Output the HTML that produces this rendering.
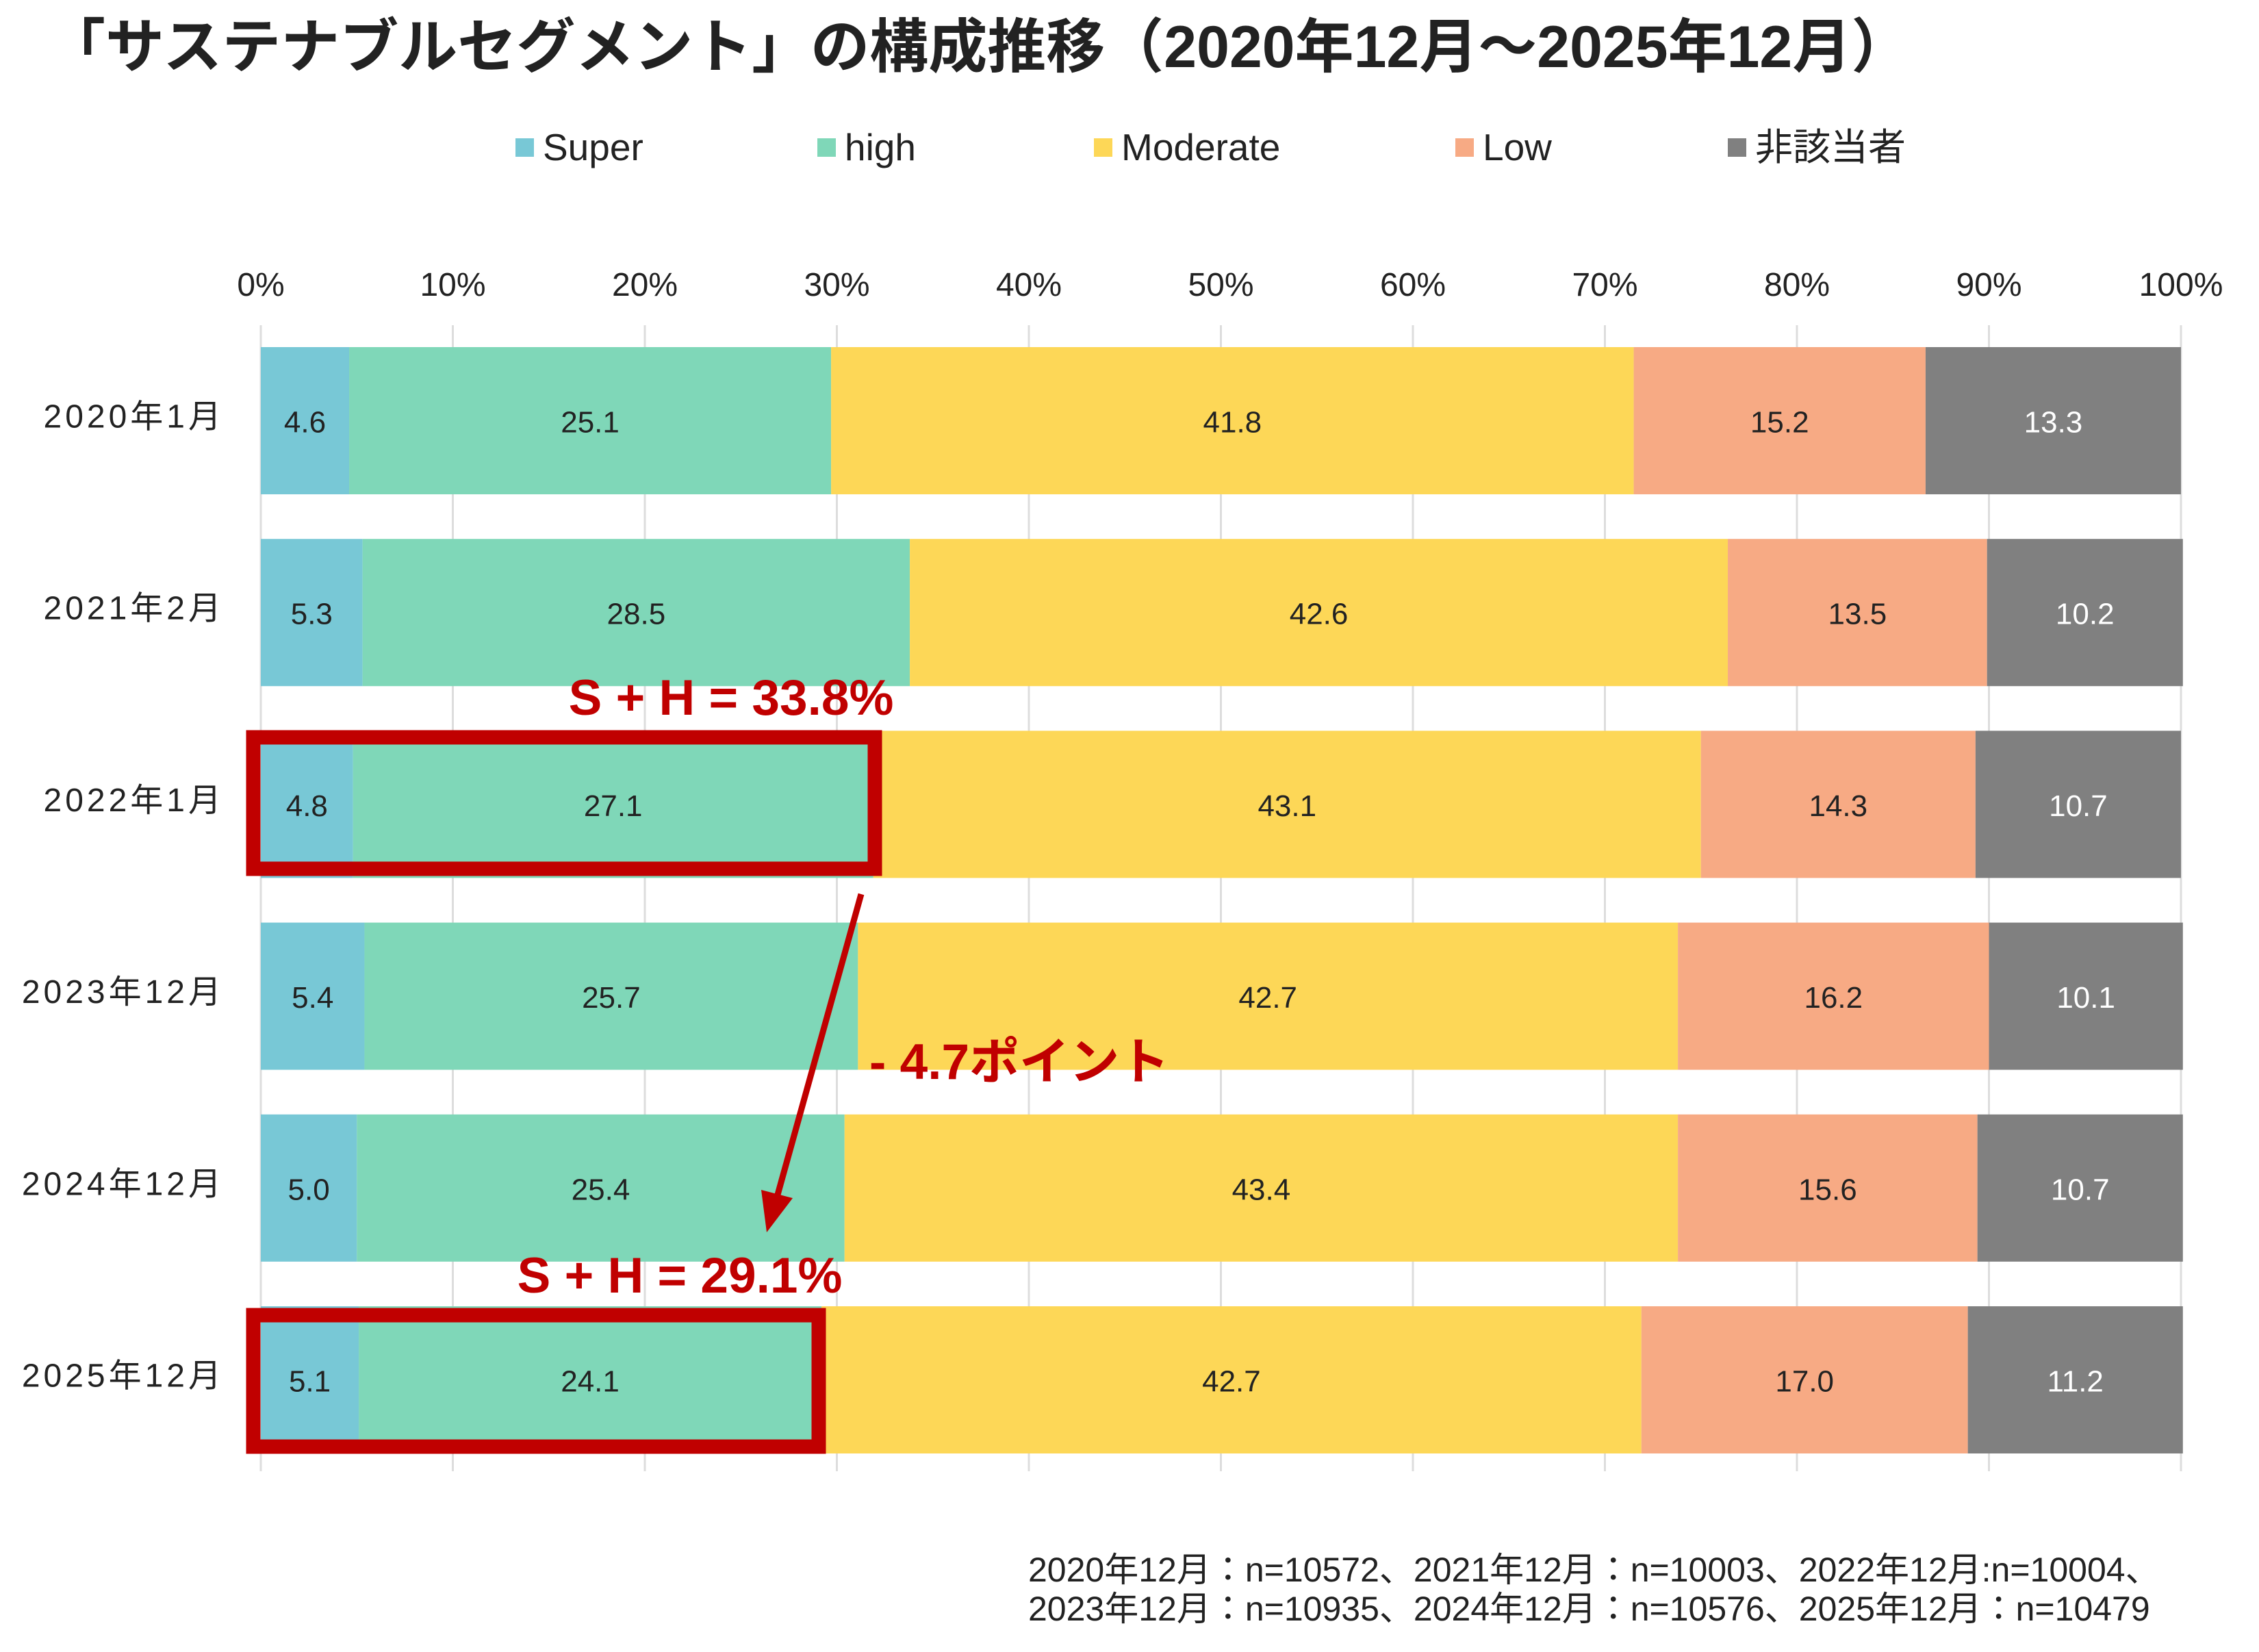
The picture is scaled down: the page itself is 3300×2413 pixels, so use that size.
<!DOCTYPE html>
<html><head><meta charset="utf-8">
<style>
html,body{margin:0;padding:0;background:#fff;}
svg{display:block;font-family:"Liberation Sans","Noto Sans CJK JP",sans-serif;}
</style></head>
<body>
<svg id="chart" width="3300" height="2413" viewBox="0 0 3300 2413" xmlns="http://www.w3.org/2000/svg">
<text x="68" y="98" font-size="86" font-weight="bold" fill="#222">「サステナブルセグメント」の構成推移（2020年12月～2025年12月）</text>
<g id="legend"></g>
<g id="grid"></g>
<g id="xticks"></g>
<g id="bars"></g>
<g id="ylabels"></g>
<g>
<rect x="370" y="1077" width="908" height="192" fill="none" stroke="#c00000" stroke-width="21"/>
<rect x="370" y="1921" width="826" height="192" fill="none" stroke="#c00000" stroke-width="21"/>
<text x="1068" y="1044" text-anchor="middle" font-size="73" font-weight="bold" fill="#c00000">S + H = 33.8%</text>
<text x="993" y="1888" text-anchor="middle" font-size="73" font-weight="bold" fill="#c00000">S + H = 29.1%</text>
<text x="1270" y="1576" font-size="73" font-weight="bold" fill="#c00000">- 4.7ポイント</text>
<line x1="1258" y1="1306" x2="1136" y2="1745" stroke="#c00000" stroke-width="9"/>
<polygon points="1120,1800 1112,1738 1158,1750" fill="#c00000"/>
</g>
<text x="1502" y="2310" font-size="50" fill="#222">2020年12月：n=10572、2021年12月：n=10003、2022年12月:n=10004、</text>
<text x="1502" y="2367" font-size="50" fill="#222">2023年12月：n=10935、2024年12月：n=10576、2025年12月：n=10479</text>
</svg>
<script>
const categories = ["2020年1月","2021年2月","2022年1月","2023年12月","2024年12月","2025年12月"];
const seriesNames = ["Super","high","Moderate","Low","非該当者"];
const superVals = [4.6,5.3,4.8,5.4,5.0,5.1];
const highVals = [25.1,28.5,27.1,25.7,25.4,24.1];
const moderateVals = [41.8,42.6,43.1,42.7,43.4,42.7];
const lowVals = [15.2,13.5,14.3,16.2,15.6,17.0];
const naVals = [13.3,10.2,10.7,10.1,10.7,11.2];
const tickVals = [0,10,20,30,40,50,60,70,80,90,100];

const colors = ["#78c8d6","#7fd7b8","#fdd757","#f7aa84","#808080"];
const textColors = ["#222","#222","#222","#222","#fff"];
const allSeries = [superVals,highVals,moderateVals,lowVals,naVals];
const NS = "http://www.w3.org/2000/svg";
const X0 = 381, X1 = 3186;
const xScale = v => X0 + (X1 - X0) * v / 100;
const rowTop0 = 507, rowStep = 280.2, barH = 215;
const yScale = i => rowTop0 + i * rowStep;
function mk(tag, attrs, parent){const e=document.createElementNS(NS,tag);for(const k in attrs)e.setAttribute(k,attrs[k]);parent.appendChild(e);return e;}

const grid = document.getElementById('grid');
const xticks = document.getElementById('xticks');
tickVals.forEach(t=>{
  const l = mk('line',{x1:xScale(t),x2:xScale(t),y1:475,y2:2149,stroke:'#dddddd','stroke-width':3},grid);
  
  
  const tx = mk('text',{x:xScale(t),y:432,'text-anchor':'middle','font-size':48,fill:'#222'},xticks);
  tx.textContent = t + '%';
  
  
});

const bars = document.getElementById('bars');
const ylabels = document.getElementById('ylabels');
categories.forEach((c,i)=>{
  let cum = 0;
  const y = yScale(i);
  allSeries.forEach((s,j)=>{
    const v = s[i];
    const r = mk('rect',{x:xScale(cum),y:y,width:xScale(cum+v)-xScale(cum),height:barH,fill:colors[j]},bars);
    
    
    const t = mk('text',{x:(xScale(cum)+xScale(cum+v))/2,y:y+barH/2+17,'text-anchor':'middle','font-size':44,fill:textColors[j]},bars);
    t.textContent = v.toFixed(1);
    
    
    cum += v;
  });
  const yl = mk('text',{x:328,y:y+barH/2+10,'text-anchor':'end','font-size':48,fill:'#222','letter-spacing':5},ylabels);
  yl.textContent = c;
  
  
});

const legend = document.getElementById('legend');
const legX = [753,1194,1598,2126,2524];
seriesNames.forEach((n,j)=>{
  const sq = mk('rect',{x:legX[j],y:202,width:27,height:27,fill:colors[j]},legend);
  
  
  const t = mk('text',{x:legX[j]+40,y:234,'font-size':55,fill:'#222'},legend);
  t.textContent = n;
  
  
});
</script>
</body></html>
